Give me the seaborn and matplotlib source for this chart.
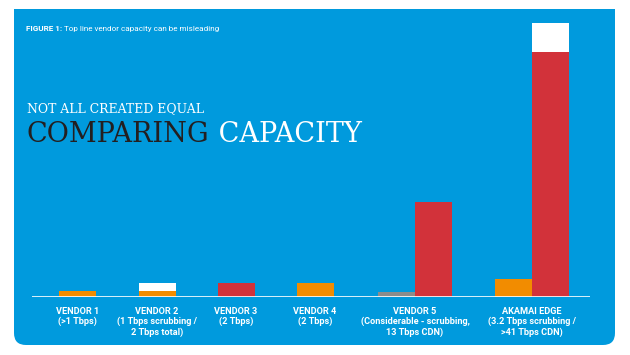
import matplotlib
matplotlib.use('Agg')
import matplotlib.pyplot as plt
import numpy as np
import pandas as pd
import seaborn as sb
from matplotlib.patches import FancyBboxPatch, Rectangle

# chart values (Tbps)
vendor_names = ['VENDOR 1', 'VENDOR 2', 'VENDOR 3', 'VENDOR 4', 'VENDOR 5', 'AKAMAI EDGE']
vendor_notes = ['(>1 Tbps)',
                '(1 Tbps scrubbing /\n2 Tbps total)',
                '(2 Tbps)',
                '(2 Tbps)',
                '(Considerable - scrubbing,\n13 Tbps CDN)',
                '(3.2 Tbps scrubbing /\n>41 Tbps CDN)']
scrubbing_tbps = [0.8, 0.8, 0.0, 1.9, 0.0, 2.5]     # orange
undisclosed_tbps = [0.0, 0.0, 0.0, 0.0, 0.7, 0.0]   # grey
network_tbps = [0.0, 0.0, 1.9, 0.0, 13.0, 33.5]     # red
headline_tbps = [0.0, 1.9, 0.0, 0.0, 0.0, 37.5]     # white top line

BLUE = '#009ADD'
ORANGE = '#F28C00'
RED = '#D2323A'
GREY = '#8C8C8C'
DARK = '#231F20'
palette = {'headline': 'white', 'scrubbing': ORANGE, 'undisclosed': GREY, 'network': RED}

# layout, in pixels of the 630x355 picture
group_centers = [77.5, 157, 236, 315, 415, 532]
bar_w = 37
label_font = ['Liberation Sans Narrow', 'Roboto', 'DejaVu Sans']

# build one row per bar segment
rows = []
for i, c in enumerate(group_centers):
    has_left = scrubbing_tbps[i] > 0 or undisclosed_tbps[i] > 0
    has_right = network_tbps[i] > 0
    if has_left and has_right:
        lx, rx = c - bar_w / 2, c + bar_w / 2
    else:
        lx = rx = c
    if scrubbing_tbps[i] > 0:
        rows.append({'x': lx, 'kind': 'scrubbing', 'tbps': scrubbing_tbps[i]})
    if undisclosed_tbps[i] > 0:
        rows.append({'x': lx, 'kind': 'undisclosed', 'tbps': undisclosed_tbps[i]})
    if network_tbps[i] > 0:
        rows.append({'x': rx, 'kind': 'network', 'tbps': network_tbps[i]})
    if headline_tbps[i] > 0:
        rows.append({'x': rx if has_right else lx, 'kind': 'headline', 'tbps': headline_tbps[i]})
df = pd.DataFrame(rows)

fig = plt.figure(figsize=(6.3, 3.55), dpi=100)
fig.patch.set_facecolor('white')

# background canvas in pixel coords
bg = fig.add_axes([0, 0, 1, 1])
bg.set_xlim(0, 630)
bg.set_ylim(355, 0)
bg.axis('off')
bg.add_patch(FancyBboxPatch((14, 9), 601, 336, boxstyle='round,pad=0,rounding_size=12',
                            facecolor=BLUE, edgecolor='none'))
bg.add_patch(Rectangle((14, 9), 601, 60, facecolor=BLUE, edgecolor='none'))

# bars
ax = fig.add_axes([32 / 630, 58 / 355, (590 - 32) / 630, 274 / 355])
sb.barplot(data=df, x='x', y='tbps', hue='kind',
           hue_order=['headline', 'scrubbing', 'undisclosed', 'network'],
           palette=palette, native_scale=True, dodge=False, width=1.0,
           saturation=1, errorbar=None, linewidth=0, legend=False, ax=ax)
ax.set_xlim(32, 590)
ax.set_ylim(0, 37.5)
ax.axhline(0, color='white', lw=1.2, zorder=5)
ax.axis('off')

# vendor labels
for c, name, note in zip(group_centers, vendor_names, vendor_notes):
    bg.text(c, 311, name, ha='center', va='center', color='white', fontsize=6.6,
            fontweight='bold', family=label_font)
    bg.text(c, 317, note, ha='center', va='top', color='white', fontsize=6.6,
            fontweight='bold', family=label_font, linespacing=1.15)

# figure caption
t = bg.text(26, 31, 'FIGURE 1:', color='white', fontsize=5.9, fontweight='bold',
            family=label_font, va='baseline')
bg.annotate(' Top line vendor capacity can be misleading', xy=(1, 0), xycoords=t,
            va='bottom', color='white', fontsize=5.9, family=label_font)

# headline
bg.text(27, 112, 'NOT ALL CREATED EQUAL', color='white', fontsize=8.9,
        family='DejaVu Serif', va='baseline')
t2 = bg.text(27, 142, 'COMPARING', color=DARK, fontsize=19.5,
             family='DejaVu Serif', va='baseline')
bg.annotate(' CAPACITY', xy=(1, 0), xycoords=t2, va='bottom', color='white',
            fontsize=19.5, family='DejaVu Serif')

fig.savefig('out.png', dpi=100)
